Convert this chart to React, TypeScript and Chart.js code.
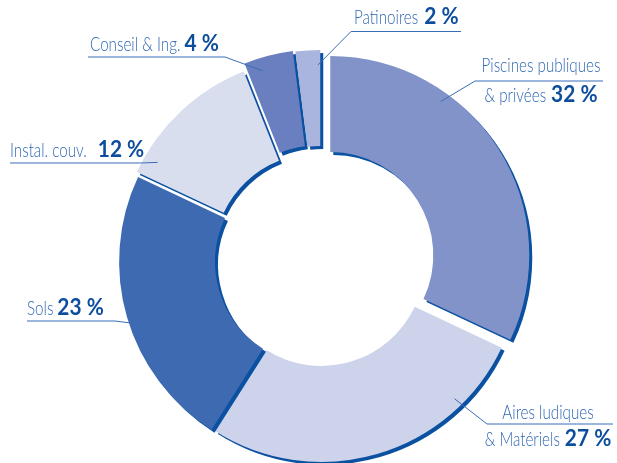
import React, { useEffect, useRef } from "react";
import { Chart, registerables } from "chart.js";

Chart.register(...registerables);

// ---- data ----
const categories = [
  "Piscines publiques & privées",
  "Aires ludiques & Matériels",
  "Sols",
  "Instal. couv.",
  "Conseil & Ing.",
  "Patinoires",
];
const shares = [32, 27, 23, 12, 4, 2];
const labelLines = [
  ["Piscines publiques", "& privées"],
  ["Aires ludiques", "& Matériels"],
  ["Sols"],
  ["Instal. couv."],
  ["Conseil & Ing."],
  ["Patinoires"],
];
const valueLabels = ["32 %", "27 %", "23 %", "12 %", "4 %", "2 %"];

// ---- styles ----
const sliceColors = ["#8193c8", "#cdd3ea", "#3e6ab2", "#d9deee", "#6a7fc0", "#a9b5dc"];
const explode = [11, 2, 3, 6, 13, 12];
const SHADOW = "#0a51a1";
const TEXT_COLOR = "#2f67b2";
const BOLD_COLOR = "#0d4d9e";
const LINE_COLOR = "#3a6db7";
const LIGHT_FONT = "300 20px Lato";
const BOLD_FONT = "bold 22px Lato";
const LIGHT_SX = 0.76;
const BOLD_SX = 0.95;

type LabelSpec = {
  align: "left" | "center";
  x: number;
  baselines: number[];
  gap: number;
  underline: [number, number, number]; // x1, x2, y
  from: "left" | "right";
  frac: number;
  rfrac: number;
};

const labelSpecs: LabelSpec[] = [
  { align: "center", x: 541, baselines: [72, 102], gap: 5, underline: [475, 603, 81], from: "left", frac: 0.31, rfrac: 0.95 },
  { align: "center", x: 548, baselines: [419, 446], gap: 5, underline: [487, 613, 424], from: "left", frac: 0.21, rfrac: 0.955 },
  { align: "left", x: 27, baselines: [315], gap: 4, underline: [27, 115, 321], from: "right", frac: 0.44, rfrac: 0.89 },
  { align: "left", x: 10, baselines: [157], gap: 11, underline: [10, 140, 163], from: "right", frac: 0.125, rfrac: 0.93 },
  { align: "left", x: 90, baselines: [51], gap: 4, underline: [88, 225, 57], from: "right", frac: 0.3, rfrac: 0.935 },
  { align: "left", x: 354, baselines: [24], gap: 6, underline: [351, 461, 31.5], from: "left", frac: 0.9, rfrac: 0.925 },
];

function runWidth(ctx: CanvasRenderingContext2D, text: string, font: string, sx: number) {
  ctx.save();
  ctx.font = font;
  const w = ctx.measureText(text).width * sx;
  ctx.restore();
  return w;
}

function drawRun(ctx: CanvasRenderingContext2D, text: string, x: number, y: number, font: string, color: string, sx: number) {
  ctx.save();
  ctx.font = font;
  ctx.fillStyle = color;
  ctx.textBaseline = "alphabetic";
  ctx.textAlign = "left";
  const w = ctx.measureText(text).width * sx;
  ctx.translate(x, y);
  ctx.scale(sx, 1);
  ctx.fillText(text, 0, 0);
  ctx.restore();
  return w;
}

const explodePlugin = {
  id: "explodeSlices",
  afterDatasetUpdate(chart: any, args: any) {
    const meta = chart.getDatasetMeta(args.index);
    const { left, right, top, bottom } = chart.chartArea;
    const cx = (left + right) / 2;
    const cy = (top + bottom) / 2;
    meta.data.forEach((arc: any, i: number) => {
      const mid = (arc.startAngle + arc.endAngle) / 2;
      arc.x = cx + Math.cos(mid) * explode[i];
      arc.y = cy + Math.sin(mid) * explode[i];
    });
  },
};

const shadowPlugin = {
  id: "sliceShadow",
  beforeDatasetDraw(chart: any) {
    const ctx = chart.ctx;
    ctx.save();
    ctx.shadowColor = SHADOW;
    ctx.shadowOffsetX = 3;
    ctx.shadowOffsetY = 3;
    ctx.shadowBlur = 0;
  },
  afterDatasetDraw(chart: any) {
    chart.ctx.restore();
  },
};

const labelPlugin = {
  id: "sliceLabels",
  afterDraw(chart: any) {
    const ctx: CanvasRenderingContext2D = chart.ctx;
    const meta = chart.getDatasetMeta(0);
    ctx.save();
    labelSpecs.forEach((spec, i) => {
      const lines = labelLines[i];
      const value = valueLabels[i];
      lines.forEach((line, li) => {
        const isLast = li === lines.length - 1;
        const w1 = runWidth(ctx, line, LIGHT_FONT, LIGHT_SX);
        const w2 = isLast ? spec.gap + runWidth(ctx, value, BOLD_FONT, BOLD_SX) : 0;
        const total = w1 + w2;
        let x = spec.align === "center" ? spec.x - total / 2 : spec.x;
        const y = spec.baselines[li];
        x += drawRun(ctx, line, x, y, LIGHT_FONT, TEXT_COLOR, LIGHT_SX);
        if (isLast) drawRun(ctx, value, x + spec.gap, y, BOLD_FONT, BOLD_COLOR, BOLD_SX);
      });
      // underline + leader line to the slice
      const arc = meta.data[i];
      const ang = arc.startAngle + (arc.endAngle - arc.startAngle) * spec.frac;
      const r = arc.outerRadius * spec.rfrac;
      const px = arc.x + Math.cos(ang) * r;
      const py = arc.y + Math.sin(ang) * r;
      const [x1, x2, uy] = spec.underline;
      ctx.strokeStyle = LINE_COLOR;
      ctx.lineWidth = 1;
      ctx.beginPath();
      if (spec.from === "left") {
        ctx.moveTo(x2, uy);
        ctx.lineTo(x1, uy);
      } else {
        ctx.moveTo(x1, uy);
        ctx.lineTo(x2, uy);
      }
      ctx.lineTo(px, py);
      ctx.stroke();
    });
    ctx.restore();
  },
};

export default function App() {
  const canvasRef = useRef<HTMLCanvasElement | null>(null);

  useEffect(() => {
    document.body.style.margin = "0";
    const canvas = canvasRef.current;
    if (!canvas) return;
    const chart = new Chart(canvas, {
      type: "doughnut",
      data: {
        labels: categories,
        datasets: [
          {
            data: shares,
            backgroundColor: sliceColors,
            borderWidth: 0,
            radius: 199,
            cutout: `${(103 / 199) * 100}%`,
            clip: false,
          } as any,
        ],
      },
      options: {
        responsive: false,
        animation: false,
        events: [],
        layout: { padding: { left: 25, top: 59, right: 0, bottom: 0 } },
        plugins: {
          legend: { display: false },
          tooltip: { enabled: false },
        },
      },
      plugins: [explodePlugin, shadowPlugin, labelPlugin],
    });
    return () => chart.destroy();
  }, []);

  return (
    <div style={{ position: "absolute", left: 0, top: 0, width: 617, height: 463, background: "#fff" }}>
      <canvas ref={canvasRef} width={617} height={463} />
    </div>
  );
}
